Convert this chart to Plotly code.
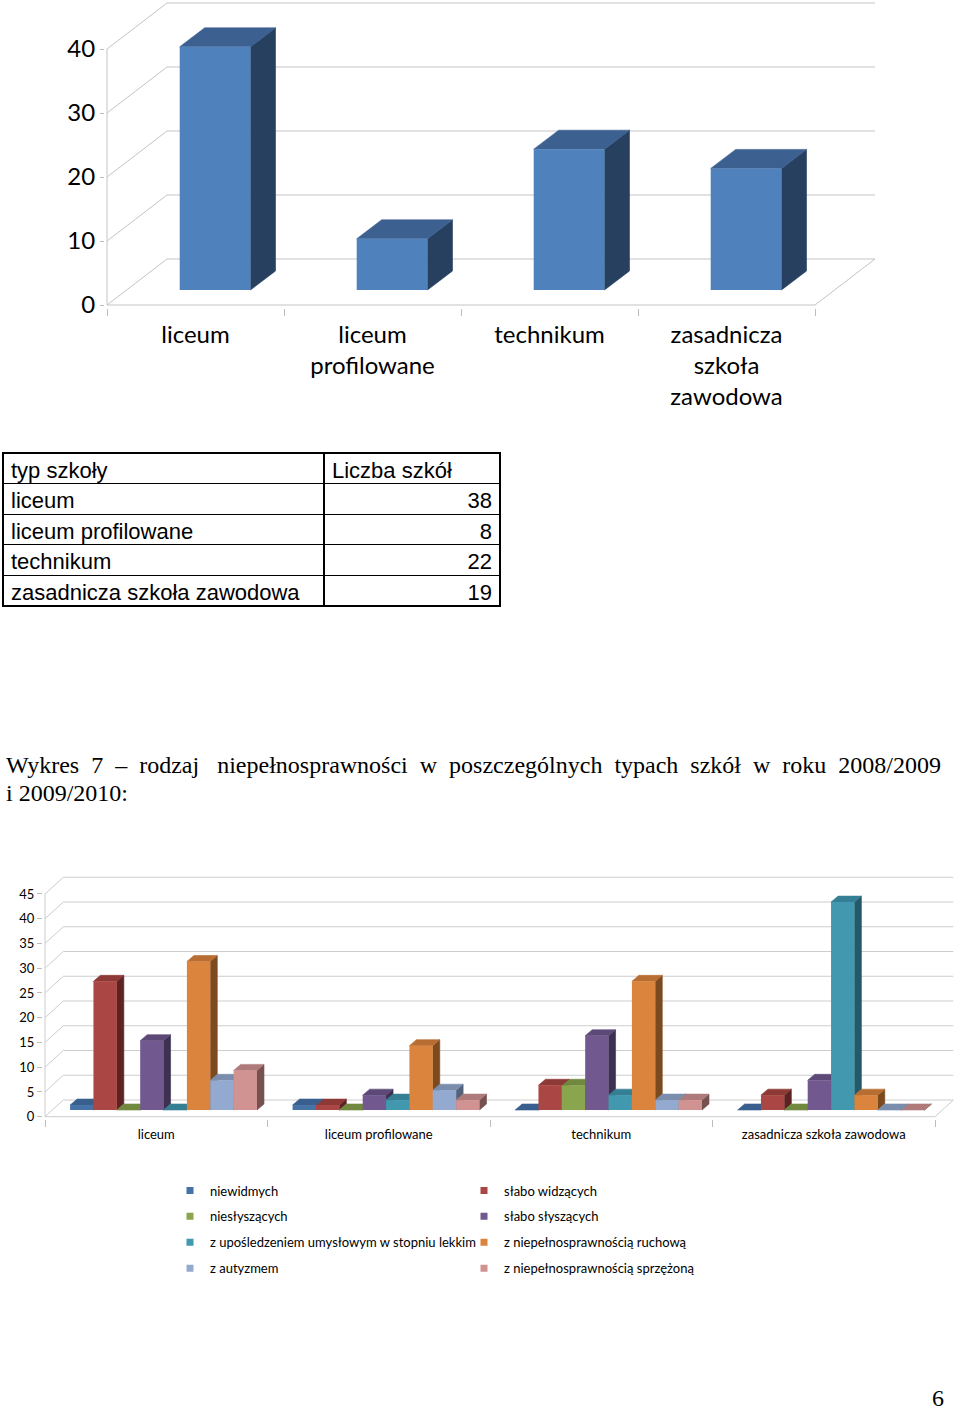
import plotly.graph_objects as go

# ------------------------------------------------------------------ data
school_types = ["liceum", "liceum profilowane", "technikum", "zasadnicza szkoła zawodowa"]
chart1_labels = ["liceum", "liceum<br>profilowane", "technikum", "zasadnicza<br>szkoła<br>zawodowa"]
school_counts = [38, 8, 22, 19]
chart1_ticks = [0, 10, 20, 30, 40]

table_header = ["typ szkoły", "Liczba szkół"]

disability_names = [
    "niewidmych", "słabo widzących", "niesłyszących", "słabo słyszących",
    "z upośledzeniem umysłowym w stopniu lekkim", "z niepełnosprawnością ruchową",
    "z autyzmem", "z niepełnosprawnością sprzężoną",
]
niewidmych = [1, 1, 0, 0]
slabo_widzacych = [26, 1, 5, 3]
nieslyszacych = [0, 0, 5, 0]
slabo_slyszacych = [14, 3, 15, 6]
uposledzenie_lekkie = [0, 2, 3, 42]
ruchowa = [30, 13, 26, 3]
autyzm = [6, 4, 2, 0]
sprzezona = [8, 2, 2, 0]
chart2_ticks = [0, 5, 10, 15, 20, 25, 30, 35, 40, 45]

caption_words1 = ["Wykres", "7", "–", "rodzaj ", "niepełnosprawności", "w", "poszczególnych",
                  "typach", "szkół", "w", "roku", "2008/2009"]
caption_line2 = "i 2009/2010:"
page_number = "6"

series2 = [niewidmych, slabo_widzacych, nieslyszacych, slabo_slyszacych,
           uposledzenie_lekkie, ruchowa, autyzm, sprzezona]

# ------------------------------------------------------------------ styles
W, H = 960, 1414
LABEL_FONT = "Lato, Carlito, Calibri, sans-serif"
SERIF = "Liberation Serif, Times New Roman, serif"
SANS = "Liberation Sans, Arial, sans-serif"
GRID = "#CDCDCD"

FRONT1, TOP1, SIDE1 = "#4F81BD", "#3C6190", "#27405F"
FRONT2 = ["#4572A7", "#AA4643", "#89A54E", "#71588F", "#4198AF", "#DB843D", "#93A9CF", "#D19392"]
TOP2 = ["#395F8E", "#8D3936", "#71893F", "#5D4977", "#357F95", "#B86E33", "#7A8DAD", "#AF7B7A"]
SIDE2 = ["#253F5F", "#5D2322", "#4B5A29", "#3D3050", "#24596A", "#7B4A1E", "#546279", "#76514F"]


def fx(px):
    return px / W


def fy(py):
    return 1 - py / H


# geometry of the two pseudo-3D charts (pixel based projection parameters)
def geom(step, unit, plane_x, plane_y, front_off, back_off, bar_depth, dom_x, dom_y):
    g = dict(step=step, unit=unit)
    g["dxf"] = front_off[0] / step
    g["dyf"] = front_off[1] / unit
    g["dxb"] = back_off[0] / step
    g["dyb"] = back_off[1] / unit
    g["bdx"] = bar_depth[0] / step
    g["bdy"] = bar_depth[1] / unit
    g["xrange"] = [(dom_x[0] - plane_x) / step - 0.5, (dom_x[1] - plane_x) / step - 0.5]
    g["yrange"] = [(plane_y - dom_y[0]) / unit, (plane_y - dom_y[1]) / unit]
    g["xdom"] = [fx(dom_x[0]), fx(dom_x[1])]
    g["ydom"] = [fy(dom_y[0]), fy(dom_y[1])]
    return g


G1 = geom(177, 6.4, 126.6, 290, (-19.6, -15), (40.4, 31), (25, 19), (105, 960), (308, 0))
G2 = geom(222.5, 4.95, 52.3, 1110, (-7.3, -6.7), (11, 10), (7, 6), (43, 960), (1119, 866))


def frame_lines(g, ncat, ticks):
    xs, ys = [], []
    left_f, left_b = -0.5 + g["dxf"], -0.5 + g["dxb"]
    right_f, right_b = ncat - 0.5 + g["dxf"], ncat - 0.5 + g["dxb"]
    for v in ticks:
        xs += [left_f, left_b, right_b, None]
        ys += [v + g["dyf"], v + g["dyb"], v + g["dyb"], None]
    xs += [left_f, right_f, right_b, None]
    ys += [g["dyf"], g["dyf"], g["dyb"], None]
    xs += [left_f, left_f, None]
    ys += [g["dyf"], ticks[-1] + g["dyf"], None]
    return xs, ys


def side_path(vals, off, w, g):
    xs, ys = [], []
    for k, v in enumerate(vals):
        xr = k + off + w
        xs += [xr, xr, xr + g["bdx"], xr + g["bdx"], xr, None]
        ys += [0, v, v + g["bdy"], g["bdy"], 0, None]
    return xs, ys


def top_path(vals, off, w, g):
    xs, ys = [], []
    for k, v in enumerate(vals):
        xl, xr = k + off, k + off + w
        xs += [xl, xr, xr + g["bdx"], xl + g["bdx"], xl, None]
        ys += [v, v, v + g["bdy"], v + g["bdy"], v, None]
    return xs, ys


def poly(xs, ys, color, xa, ya):
    return go.Scatter(x=xs, y=ys, mode="lines", fill="toself", fillcolor=color,
                      line=dict(color=color, width=0.6), hoverinfo="skip",
                      showlegend=False, xaxis=xa, yaxis=ya)


fig = go.Figure()

# ------------------------------------------------------------------ chart 1
gx, gy = frame_lines(G1, len(school_types), chart1_ticks)
fig.add_trace(go.Scatter(x=gx, y=gy, mode="lines", line=dict(color="#C4C4C4", width=1),
                         hoverinfo="skip", showlegend=False, xaxis="x", yaxis="y"))
w1, off1 = 0.4, -0.2
sx, sy = side_path(school_counts, off1, w1, G1)
fig.add_trace(poly(sx, sy, SIDE1, "x", "y"))
tx, ty = top_path(school_counts, off1, w1, G1)
fig.add_trace(poly(tx, ty, TOP1, "x", "y"))
fig.add_trace(go.Bar(x=list(range(len(school_types))), y=school_counts, offset=off1, width=w1,
                     marker=dict(color=FRONT1, line=dict(width=0)), name="Liczba szkół",
                     hovertext=school_types, showlegend=False, xaxis="x2", yaxis="y2"))

# ------------------------------------------------------------------ chart 2
gx, gy = frame_lines(G2, len(school_types), chart2_ticks)
fig.add_trace(go.Scatter(x=gx, y=gy, mode="lines", line=dict(color=GRID, width=1),
                         hoverinfo="skip", showlegend=False, xaxis="x3", yaxis="y3"))
nser = len(series2)
w2 = 0.84 / nser
offs = [-0.42 + j * w2 for j in range(nser)]
for j in range(nser):
    sx, sy = side_path(series2[j], offs[j], w2, G2)
    fig.add_trace(poly(sx, sy, SIDE2[j], "x3", "y3"))
for j in reversed(range(nser)):
    tx, ty = top_path(series2[j], offs[j], w2, G2)
    fig.add_trace(poly(tx, ty, TOP2[j], "x3", "y3"))
for j in range(nser):
    fig.add_trace(go.Bar(x=list(range(len(school_types))), y=series2[j], offset=offs[j], width=w2,
                         marker=dict(color=FRONT2[j], line=dict(width=0)), name=disability_names[j],
                         legendgroup=disability_names[j], showlegend=False,
                         xaxis="x4", yaxis="y4"))
for j in range(nser):
    fig.add_trace(go.Scatter(x=[None], y=[None], mode="markers",
                             marker=dict(symbol="square", size=7, color=FRONT2[j]),
                             name=disability_names[j], legendgroup=disability_names[j],
                             legend="legend" if j % 2 == 0 else "legend2",
                             showlegend=True, xaxis="x3", yaxis="y3"))

# ------------------------------------------------------------------ table
fig.add_trace(go.Table(
    domain=dict(x=[fx(3), fx(500)], y=[fy(620), fy(453)]),
    columnwidth=[321, 176],
    header=dict(values=table_header, align=["left", "left"], height=30.6,
                font=dict(family=SANS, size=22, color="black"),
                line=dict(color="black", width=1.3), fill=dict(color="white")),
    cells=dict(values=[school_types, school_counts], align=["left", "right"], height=30.6,
               font=dict(family=SANS, size=22, color="black"),
               line=dict(color="black", width=1.3), fill=dict(color="white")),
))

# ------------------------------------------------------------------ layout
def base_x(g, labels, ticklen, size):
    n = len(labels)
    return dict(domain=g["xdom"], range=g["xrange"], showgrid=False, zeroline=False,
                showline=False, tickmode="array", automargin=False,
                tickvals=[k + g["dxf"] for k in range(n)], ticktext=labels,
                ticks="outside", ticklen=ticklen, tickcolor="rgba(0,0,0,0)",
                tickfont=dict(family=LABEL_FONT, size=size, color="black"),
                minor=dict(tickmode="array", tickvals=[k - 0.5 + g["dxf"] for k in range(n + 1)],
                           ticks="outside", ticklen=7, tickcolor="#BDBDBD", tickwidth=1),
                fixedrange=True)


def base_y(g, ticks, size, ticklen):
    return dict(domain=g["ydom"], range=g["yrange"], showgrid=False, zeroline=False,
                showline=False, tickmode="array", automargin=False,
                tickvals=[v + g["dyf"] for v in ticks], ticktext=[str(v) for v in ticks],
                ticks="outside", ticklen=ticklen, tickcolor="#BDBDBD",
                tickfont=dict(family=LABEL_FONT, size=size, color="black"), fixedrange=True)


def hidden(over, anchor, rng):
    return dict(overlaying=over, range=rng, visible=False, anchor=anchor,
                fixedrange=True, automargin=False)


GAP = "\u00a0 "
caption_line1 = GAP.join(caption_words1)

fig.update_layout(
    width=W, height=H, autosize=False,
    margin=dict(l=0, r=0, t=0, b=0, pad=0, autoexpand=False),
    paper_bgcolor="white", plot_bgcolor="rgba(0,0,0,0)",
    barmode="overlay", showlegend=True,
    xaxis=dict(base_x(G1, chart1_labels, 5, 24), anchor="y"),
    yaxis=dict(base_y(G1, chart1_ticks, 24, 4), anchor="x"),
    xaxis2=hidden("x", "y2", G1["xrange"]),
    yaxis2=hidden("y", "x2", G1["yrange"]),
    xaxis3=dict(base_x(G2, school_types, 3, 13), anchor="y3"),
    yaxis3=dict(base_y(G2, chart2_ticks, 13, 5), anchor="x3"),
    xaxis4=hidden("x3", "y4", G2["xrange"]),
    yaxis4=hidden("y3", "x4", G2["yrange"]),
    legend=dict(x=fx(170), y=fy(1175.5), xanchor="left", yanchor="top", orientation="v",
                tracegroupgap=6, bgcolor="rgba(0,0,0,0)",
                font=dict(family=LABEL_FONT, size=13, color="black")),
    legend2=dict(x=fx(464), y=fy(1175.5), xanchor="left", yanchor="top", orientation="v",
                 tracegroupgap=6, bgcolor="rgba(0,0,0,0)",
                 font=dict(family=LABEL_FONT, size=13, color="black")),
    annotations=[
        dict(text=caption_line1, x=fx(4), y=fy(765), xref="paper", yref="paper",
             xanchor="left", yanchor="middle", showarrow=False,
             font=dict(family=SERIF, size=24, color="black")),
        dict(text=caption_line2, x=fx(4), y=fy(793), xref="paper", yref="paper",
             xanchor="left", yanchor="middle", showarrow=False,
             font=dict(family=SERIF, size=24, color="black")),
        dict(text=page_number, x=fx(938), y=fy(1413), xref="paper", yref="paper",
             xanchor="center", yanchor="bottom", showarrow=False,
             font=dict(family=SERIF, size=24, color="black")),
    ],
)

fig.write_html("out.html", config={"displayModeBar": False},
               post_script="document.body.style.margin='0px';")
